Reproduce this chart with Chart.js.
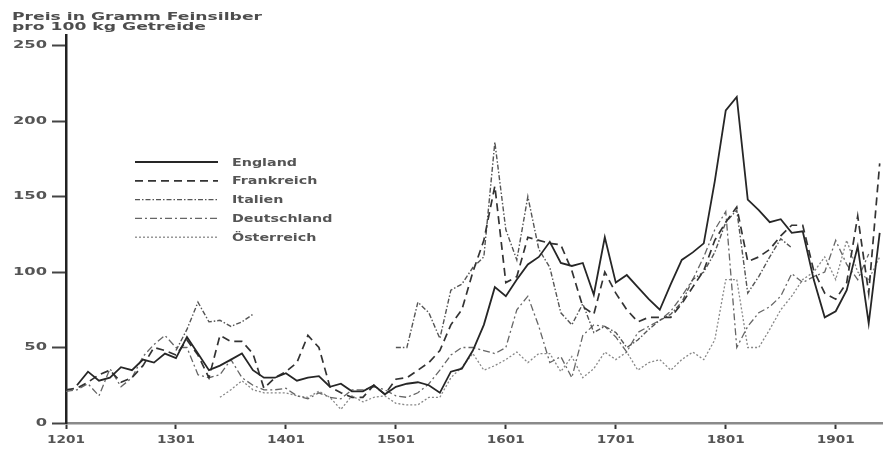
<!DOCTYPE html>
<html>
<head>
<meta charset="utf-8">
<script src="https://cdn.jsdelivr.net/npm/chart.js@4/dist/chart.umd.min.js"></script>
<style>
  html, body { margin: 0; padding: 0; background: #fff; }
  #wrap { width: 883px; height: 449px; position: relative; }
</style>
</head>
<body>
<div id="wrap"><canvas id="c" width="883" height="449"></canvas></div>
<script>
// ---- data ----
const titleLines = ["Preis in Gramm Feinsilber", "pro 100 kg Getreide"];
const seriesNames = ["England", "Frankreich", "Italien", "Deutschland", "Österreich"];
const xTickLabels = [1201, 1301, 1401, 1501, 1601, 1701, 1801, 1901];
const yTickLabels = [0, 50, 100, 150, 200, 250];

const years = [
  1201,1211,1221,1231,1241,1251,1261,1271,1281,1291,
  1301,1311,1321,1331,1341,1351,1361,1371,1381,1391,
  1401,1411,1421,1431,1441,1451,1461,1471,1481,1491,
  1501,1511,1521,1531,1541,1551,1561,1571,1581,1591,
  1601,1611,1621,1631,1641,1651,1661,1671,1681,1691,
  1701,1711,1721,1731,1741,1751,1761,1771,1781,1791,
  1801,1811,1821,1831,1841,1851,1861,1871,1881,1891,
  1901,1911,1921,1931,1941
];

const england = [
  null,25,34,28,30,37,35,42,40,46,
  43,57,46,35,38,42,46,35,30,30,
  33,28,30,31,24,26,21,21,25,19,
  24,26,27,25,20,34,36,48,65,90,
  84,95,105,110,120,106,104,106,85,123,
  93,98,90,82,75,92,108,113,119,160,
  207,216,148,141,133,135,126,127,95,70,
  74,88,117,66,126
];
const frankreich = [
  22,23,27,32,35,27,30,38,50,48,
  45,55,45,30,58,54,54,46,23,30,
  34,40,58,50,24,20,17,17,25,19,
  29,30,35,40,48,65,75,100,121,157,
  93,97,123,121,119,118,101,77,72,100,
  86,75,67,70,70,70,79,90,101,121,
  133,143,107,110,115,124,131,131,101,86,
  82,93,137,86,172
];
const italien = [
  null,null,null,null,null,null,null,null,null,null,
  48,62,80,67,68,64,67,72,null,null,
  null,null,null,null,null,null,null,null,null,null,
  50,50,80,73,56,88,92,103,110,186,
  128,108,150,115,103,73,65,79,60,64,
  60,50,55,62,68,72,80,95,100,113,
  133,141,86,97,110,122,116,null,null,null,
  null,null,null,null,null
];
const deutschland = [
  21,22,26,18,36,24,30,44,52,58,
  50,50,32,30,32,42,30,25,22,22,
  23,18,16,20,17,16,22,22,24,22,
  18,17,20,26,35,45,50,50,48,46,
  50,75,84,64,40,44,30,58,65,64,
  57,47,60,64,68,74,84,95,110,128,
  140,50,64,73,77,84,99,93,97,100,
  121,105,95,112,null
];
const oesterreich = [
  null,null,null,null,null,null,null,null,null,null,
  null,null,null,null,17,22,28,22,20,20,
  20,18,17,21,17,9,18,14,17,18,
  13,12,12,17,17,30,37,46,35,38,
  42,47,40,46,46,34,44,30,36,47,
  42,47,35,40,42,35,42,47,42,55,
  95,95,50,50,62,75,84,95,100,110,
  95,121,100,95,110
];

const seriesValues = [england, frankreich, italien, deutschland, oesterreich];
const seriesStyles = [
  { color: '#262626', width: 1.8, dash: [] },
  { color: '#333333', width: 1.7, dash: [8, 5] },
  { color: '#555555', width: 1.4, dash: [5, 2, 1.5, 2] },
  { color: '#666666', width: 1.3, dash: [7, 3, 2, 3] },
  { color: '#888888', width: 1.3, dash: [2, 2] }
];

const datasets = seriesNames.map((name, i) => ({
  label: name,
  data: years.map((yr, k) => ({ x: yr, y: seriesValues[i][k] })),
  borderColor: seriesStyles[i].color,
  borderWidth: seriesStyles[i].width,
  borderDash: seriesStyles[i].dash,
  pointRadius: 0,
  fill: false,
  tension: 0,
  spanGaps: false
}));

function drawScaled(ctx, text, x, y, sx, align) {
  const w = ctx.measureText(text).width * sx;
  let x0 = x;
  if (align === 'right') x0 = x - w;
  else if (align === 'center') x0 = x - w / 2;
  ctx.save();
  ctx.translate(x0, y);
  ctx.scale(sx, 1);
  ctx.textAlign = 'left';
  ctx.fillText(text, 0, 0);
  ctx.restore();
}

const textPlugin = {
  id: 'textPlugin',
  afterDraw(chart) {
    const ctx = chart.ctx;
    ctx.save();
    ctx.textBaseline = 'alphabetic';

    // title
    ctx.fillStyle = '#4d4d4d';
    ctx.font = 'bold 11px "DejaVu Sans"';
    const tsx = 250 / ctx.measureText(titleLines[0]).width;
    drawScaled(ctx, titleLines[0], 12, 20, tsx, 'left');
    drawScaled(ctx, titleLines[1], 12, 30, tsx, 'left');

    // tick labels
    ctx.fillStyle = '#555555';
    ctx.font = 'bold 11px "DejaVu Sans"';
    const xs = chart.scales.x, ys = chart.scales.y;
    const xsx = 38 / ctx.measureText('1301').width;
    xs.ticks.forEach(t => {
      drawScaled(ctx, String(t.value), xs.getPixelForValue(t.value), 443, xsx, 'center');
    });
    const ysx = 34 / ctx.measureText('250').width;
    ctx.textBaseline = 'middle';
    ys.ticks.forEach(t => {
      drawScaled(ctx, String(t.value), 47, ys.getPixelForValue(t.value), ysx, 'right');
    });

    // legend inside the plot
    ctx.fillStyle = '#555555';
    ctx.textBaseline = 'middle';
    ctx.font = 'bold 10px "DejaVu Sans"';
    const lsx = 65 / ctx.measureText('England').width;
    chart.data.datasets.forEach((ds, i) => {
      const y = 162 + i * 18.8;
      ctx.save();
      ctx.strokeStyle = ds.borderColor;
      ctx.lineWidth = ds.borderWidth;
      ctx.setLineDash(ds.borderDash || []);
      ctx.beginPath();
      ctx.moveTo(135, y);
      ctx.lineTo(218, y);
      ctx.stroke();
      ctx.restore();
      drawScaled(ctx, ds.label, 232, y + 1, lsx, 'left');
    });
    ctx.restore();
  }
};

new Chart(document.getElementById('c'), {
  type: 'line',
  data: { datasets },
  options: {
    responsive: false,
    animation: false,
    layout: { padding: { top: 35, left: 0, right: 0, bottom: 0 } },
    plugins: { legend: { display: false }, tooltip: { enabled: false }, title: { display: false } },
    scales: {
      x: {
        type: 'linear',
        min: 1201,
        max: 1944,
        afterBuildTicks: s => { s.ticks = xTickLabels.map(v => ({ value: v })); },
        afterFit: s => { s.height = 26; },
        ticks: { display: false },
        grid: { display: true, drawOnChartArea: false, drawTicks: true, tickLength: 6, tickWidth: 2, tickColor: '#333' },
        border: { display: true, color: '#8a8a8a', width: 2.5 }
      },
      y: {
        type: 'linear',
        min: 0,
        max: 257,
        afterBuildTicks: s => { s.ticks = yTickLabels.map(v => ({ value: v })); },
        afterFit: s => { s.width = 66; },
        ticks: { display: false },
        grid: { display: true, drawOnChartArea: false, drawTicks: true, tickLength: 14, tickWidth: 2, tickColor: '#444' },
        border: { display: true, color: '#222', width: 2.5 }
      }
    }
  },
  plugins: [textPlugin]
});
</script>
</body>
</html>
